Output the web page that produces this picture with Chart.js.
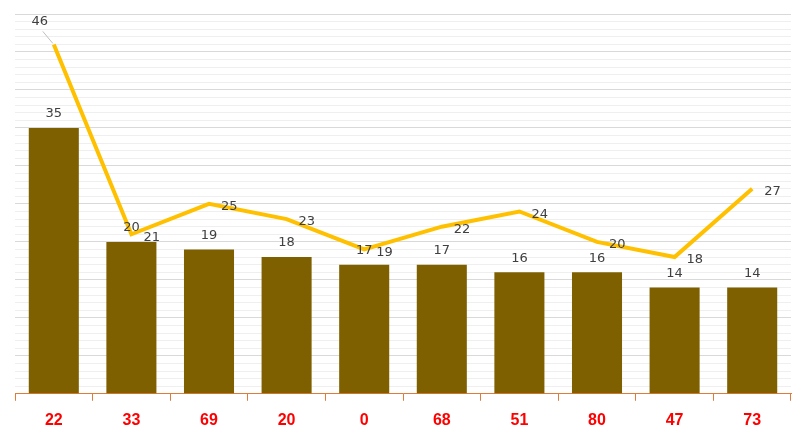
<!DOCTYPE html>
<html><head><meta charset="utf-8">
<script src="https://cdn.jsdelivr.net/npm/chart.js@4"></script>
<style>html,body{margin:0;padding:0;background:#fff}#wrap{width:807px;height:438px}</style>
</head><body><div id="wrap"><canvas id="c" width="807" height="438"></canvas></div>
<script>
const categories = ["22","33","69","20","0","68","51","80","47","73"];
const barValues = [35,20,19,18,17,17,16,16,14,14];
const lineValues = [46,21,25,23,19,22,24,20,18,27];
const yMin = 0, yMax = 50;

const labelPlugin = {
  id: 'labels',
  afterDatasetsDraw(chart) {
    const ctx = chart.ctx;
    ctx.save();
    ctx.font = '13px "DejaVu Sans", sans-serif';
    ctx.fillStyle = '#404040';
    ctx.textBaseline = 'middle';
    const bm = chart.getDatasetMeta(1);
    bm.data.forEach((el, i) => {
      ctx.textAlign = 'center';
      ctx.fillText(String(barValues[i]), el.x, el.y - 14);
    });
    const lm = chart.getDatasetMeta(0);
    lm.data.forEach((el, i) => {
      if (i === 0) {
        ctx.strokeStyle = '#BFBFBF';
        ctx.lineWidth = 1;
        ctx.beginPath();
        ctx.moveTo(el.x - 11, el.y - 13);
        ctx.lineTo(el.x - 1, el.y - 1);
        ctx.stroke();
        ctx.textAlign = 'center';
        ctx.fillText(String(lineValues[i]), el.x - 14, el.y - 23);
      } else {
        ctx.textAlign = 'left';
        ctx.fillText(String(lineValues[i]), el.x + 12, el.y + 3);
      }
    });
    ctx.restore();
  }
};

new Chart(document.getElementById('c'), {
  data: {
    labels: categories,
    datasets: [
      { type: 'line', data: lineValues, borderColor: '#FFC000', borderWidth: 4,
        pointRadius: 0, tension: 0, order: 0 },
      { type: 'bar', data: barValues, backgroundColor: '#7F6000',
        barPercentage: 0.645, categoryPercentage: 1, order: 1 }
    ]
  },
  options: {
    responsive: false, animation: false,
    layout: { padding: { left: 15, right: 16, top: 14, bottom: -2 } },
    plugins: { legend: { display: false }, tooltip: { enabled: false } },
    scales: {
      x: {
        grid: { display: true, drawOnChartArea: false, drawTicks: true, tickLength: 7, color: '#E07B39', offset: true },
        border: { display: true, color: '#E07B39', width: 1 },
        ticks: { color: '#FF0000', font: { size: 16, weight: 'bold', family: '"Liberation Sans", Arial, sans-serif' }, padding: 10 }
      },
      y: {
        min: yMin, max: yMax,
        ticks: { display: false, stepSize: 1 },
        border: { display: false },
        grid: { color: (c) => (c.tick && c.tick.value % 5 === 0) ? '#D9D9D9' : '#EFEFEF', drawTicks: false, lineWidth: 1 }
      }
    }
  },
  plugins: [labelPlugin]
});
</script></body></html>
